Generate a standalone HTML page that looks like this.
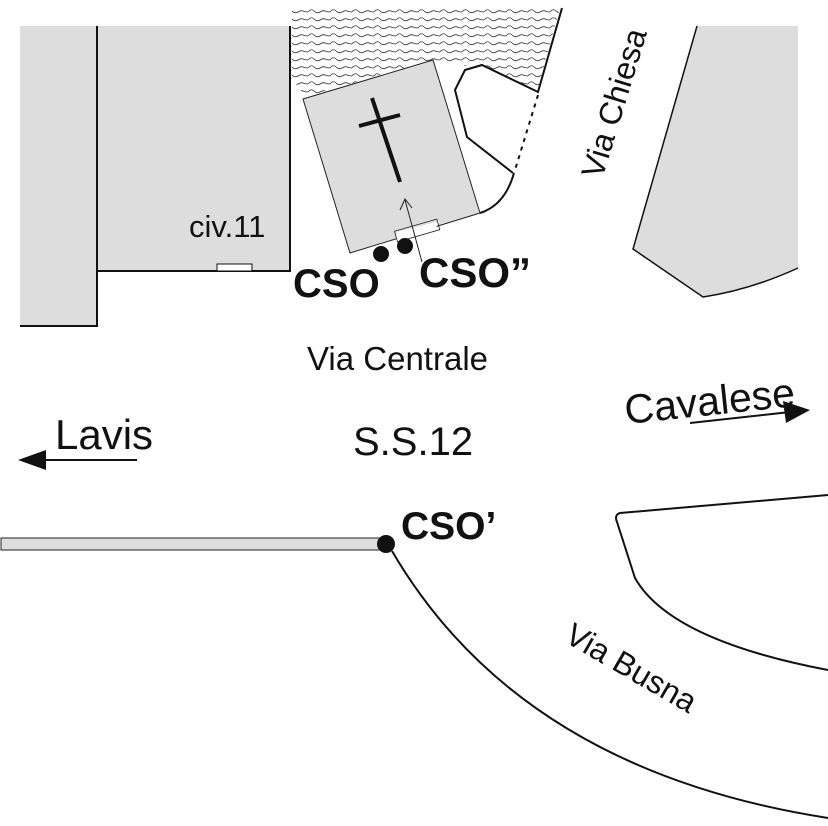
<!DOCTYPE html>
<html><head><meta charset="utf-8"><style>
html,body{margin:0;padding:0;background:#fff;}
svg{display:block;}
text{font-family:"Liberation Sans",Arial,sans-serif;fill:#111;}
</style></head><body>
<svg width="828" height="826" viewBox="0 0 828 826" xmlns="http://www.w3.org/2000/svg">
<defs>
<pattern id="wv" width="22" height="8" patternUnits="userSpaceOnUse">
<path d="M0 4 Q3 0 6 3 T12 4 T17 3 T22 4" fill="none" stroke="#333" stroke-width="0.8"/>
</pattern>
<clipPath id="hc"><polygon points="292,8 560,8 537,92 482,64 465,66 433,60 305,97 292,78"/></clipPath>
</defs>
<rect x="20" y="26" width="77" height="300" fill="#dddddd"/>
<rect x="97" y="26" width="193" height="245" fill="#dddddd"/>
<path d="M97 26 V326 H20" fill="none" stroke="#111" stroke-width="2"/>
<path d="M97 271 H290 V26" fill="none" stroke="#111" stroke-width="2"/>
<rect x="217" y="264" width="35" height="7" fill="#fff" stroke="#111" stroke-width="1"/>
<text x="189" y="237" font-size="31">civ.11</text>
<g clip-path="url(#hc)"><rect x="290" y="8" width="275" height="95" fill="url(#wv)"/></g>
<path d="M562 8 L538 92 L482 65 L465 70 L455 90 L467 137 L513 173" fill="none" stroke="#111" stroke-width="2"/>
<path d="M538 95 L515 170" fill="none" stroke="#111" stroke-width="2" stroke-dasharray="4,5"/>
<path d="M514 173 Q505 205 480 213" fill="none" stroke="#111" stroke-width="2"/>
<polygon points="303,99 433,60 480,213 350,253" fill="#dddddd" stroke="#222" stroke-width="1"/>
<line x1="372" y1="98" x2="400" y2="182" stroke="#111" stroke-width="4"/>
<line x1="359" y1="126" x2="400" y2="115" stroke="#111" stroke-width="4"/>
<polygon points="396,240 435,229 440,221 397,232" fill="#fff"/>
<rect x="395" y="225" width="44" height="11" fill="none" stroke="#222" stroke-width="0.8" transform="rotate(-16 417 230)"/>
<line x1="405" y1="200" x2="422" y2="262" stroke="#222" stroke-width="1"/>
<path d="M400 210 L405 199 L412 208" fill="none" stroke="#222" stroke-width="1"/>
<circle cx="381" cy="254" r="8" fill="#111"/>
<circle cx="405" cy="246" r="8" fill="#111"/>
<text x="293" y="297" font-size="40" font-weight="bold">CSO</text>
<text x="419" y="287" font-size="42" font-weight="bold">CSO”</text>
<path d="M697 26 L633 249 L703 297 Q750 290 798 268 V26 Z" fill="#dddddd"/>
<path d="M697 26 L633 249 L703 297 Q750 290 798 268" fill="none" stroke="#111" stroke-width="1.5"/>
<text x="0" y="0" font-size="32" transform="translate(602,180) rotate(-73)">Via Chiesa</text>
<text x="307" y="370" font-size="33">Via Centrale</text>
<text x="353" y="455" font-size="40">S.S.12</text>
<text x="55" y="449" font-size="42">Lavis</text>
<line x1="40" y1="460" x2="137" y2="460" stroke="#111" stroke-width="2"/>
<polygon points="18,460 46,450 46,470" fill="#111"/>
<text x="0" y="0" font-size="41" transform="translate(626,424) rotate(-6)">Cavalese</text>
<line x1="690" y1="423" x2="790" y2="412" stroke="#111" stroke-width="2"/>
<polygon points="810,410 783,401 786,423" fill="#111"/>
<rect x="1" y="538" width="384" height="12" fill="#dddddd" stroke="#222" stroke-width="1"/>
<circle cx="386" cy="544" r="9" fill="#111"/>
<text x="401" y="539" font-size="39" font-weight="bold">CSO’</text>
<path d="M392 551 Q520 770 828 818" fill="none" stroke="#111" stroke-width="2"/>
<path d="M828 495 L620 513 Q614 515 617 522 L635 578 Q670 640 828 670" fill="none" stroke="#111" stroke-width="2"/>
<text x="0" y="0" font-size="32" transform="translate(563,641) rotate(30)">Via Busna</text>
</svg>
</body></html>
